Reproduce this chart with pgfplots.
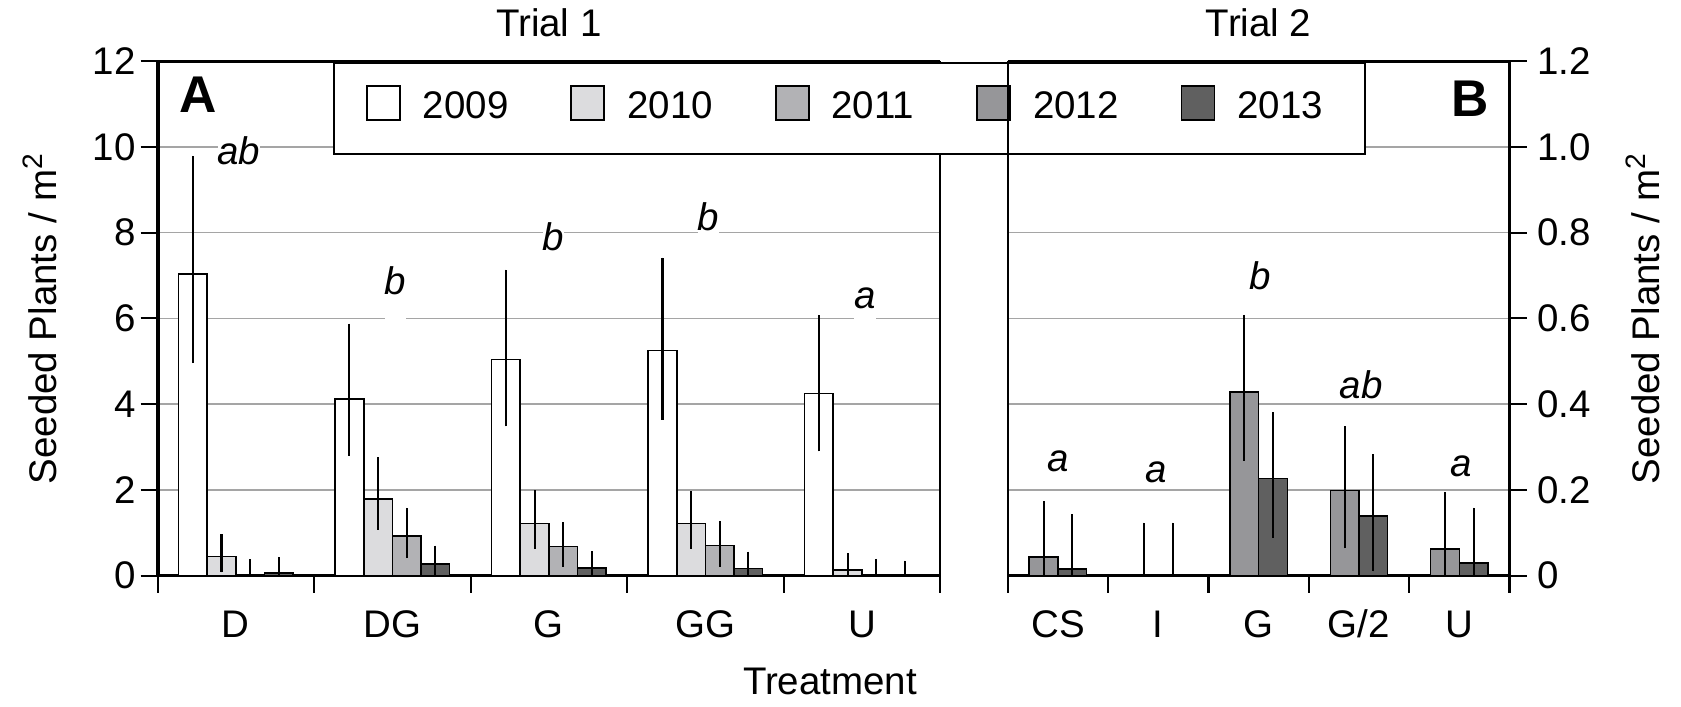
\documentclass[11pt,border=0pt]{standalone}
\usepackage{fontspec}
\setmainfont{Liberation Sans}
\usepackage{pgfplots}
\pgfplotsset{compat=1.18}

\definecolor{cB}{RGB}{220,220,222}
\definecolor{cC}{RGB}{178,178,181}
\definecolor{cD}{RGB}{150,150,153}
\definecolor{cE}{RGB}{96,96,96}
\definecolor{gridgray}{RGB}{165,165,165}

\tikzset{sig/.style={font=\itshape, anchor=base, inner sep=0pt}}

\pgfplotsset{
  panel/.style={
    scale only axis, height=5.146cm,
    ymin=0, xmin=-0.5, xmax=4.5,
    major tick length=0.17cm, minor tick length=0.17cm,
    tick style={black, line width=0.6pt},
    major x tick style={draw=none},
    xtick={0,...,4},
    minor xtick={-0.5,0.5,1.5,2.5,3.5,4.5},
    ymajorgrids, grid style={gridgray, line width=0.45pt},
    xticklabel style={anchor=base, yshift=-0.45cm},
    title style={at={(axis description cs:0.5,1)}, anchor=base, yshift=0.04cm},
  },
  eb/.style={error bars/.cd, y dir=both, y explicit, error mark=none,
    error bar style={line width=0.6pt, black}},
  swatch/.style={legend image code/.code={
    \draw[##1, line width=0.5pt] (0cm,-0.12cm) rectangle (0.33cm,0.22cm);}},
}

\begin{document}
\begin{tikzpicture}
\path[use as bounding box] (-1.576,-1.303) rectangle (15.234,5.757);

% Trial 1 (2009, 2010, 2011, 2013), bars placed at category +- offset
\begin{axis}[panel,
  width=7.826cm, ymax=12,
  axis x line=bottom, axis y line=left,
  tick align=outside,
  x axis line style={-, line width=0.85pt},
  y axis line style={-, line width=1.1pt},
  ytick={0,2,4,6,8,10,12}, yticklabels={0,2,4,6,8,10,12},
  yticklabel style={xshift=0.085cm},
  xticklabels={D,DG,G,GG,U},
  bar width=0.183,
  title={Trial 1},
  ylabel={Seeded Plants / m\textsuperscript{2}},
  ylabel style={at={(axis description cs:-0.1298,0.5)}, anchor=base},
  xlabel={Treatment},
  xlabel style={at={(axis description cs:0.8592,0)}, anchor=base, yshift=-1.19cm},
  extra description/.code={
    \draw[line width=0.85pt] (axis description cs:0,1) -- (axis description cs:1,1);
    \draw[line width=0.45pt] (axis description cs:1,0) -- (axis description cs:1,1);
    \node[font=\fontsize{14.7}{17}\selectfont\bfseries, anchor=north west, inner sep=0pt]
      at ([xshift=0.21cm,yshift=-0.15cm]axis description cs:0,1) {A};
  },
]
\addplot[ybar, fill=white, draw=black, line width=0.45pt, eb]
  coordinates {(-0.2745,7.03) += (0,2.76) -= (0,2.07)
               (0.7255,4.12) += (0,1.76) -= (0,1.33)
               (1.7255,5.04) += (0,2.10) -= (0,1.56)
               (2.7255,5.25) += (0,2.17) -= (0,1.61)
               (3.7255,4.25) += (0,1.83) -= (0,1.35)};
\addplot[ybar, fill=cB, draw=black, line width=0.45pt, eb]
  coordinates {(-0.0915,0.45) += (0,0.52) -= (0,0.37)
               (0.9085,1.79) += (0,0.97) -= (0,0.72)
               (1.9085,1.22) += (0,0.78) -= (0,0.60)
               (2.9085,1.22) += (0,0.75) -= (0,0.60)
               (3.9085,0.13) += (0,0.39) -= (0,0.13)};
\addplot[ybar, fill=cC, draw=black, line width=0.45pt, eb]
  coordinates {(0.0915,0.01) += (0,0.37) -= (0,0.01)
               (1.0915,0.92) += (0,0.66) -= (0,0.51)
               (2.0915,0.68) += (0,0.57) -= (0,0.47)
               (3.0915,0.70) += (0,0.58) -= (0,0.49)
               (4.0915,0.02) += (0,0.37) -= (0,0.02)};
\addplot[ybar, fill=cE, draw=black, line width=0.45pt, eb]
  coordinates {(0.2745,0.06) += (0,0.38) -= (0,0.06)
               (1.2745,0.27) += (0,0.43) -= (0,0.27)
               (2.2745,0.175) += (0,0.40) -= (0,0.175)
               (3.2745,0.17) += (0,0.39) -= (0,0.17)
               (4.2745,0.0) += (0,0.35) -= (0,0.0)};
\node[sig, fill=white, text depth=0.65em] at (axis cs:0.02,9.58) {ab};
\node[sig, fill=white, text depth=0.65em] at (axis cs:1.02,6.56) {b};
\node[sig, fill=white, text depth=0.65em] at (axis cs:2.03,7.58) {b};
\node[sig, fill=white, text depth=0.65em] at (axis cs:3.02,8.04) {b};
\node[sig, fill=white, text depth=0.65em] at (axis cs:4.02,6.22) {a};
\end{axis}

% Trial 2 (2012, 2013)
\begin{axis}[panel,
  at={(8.502cm,0)}, anchor=south west,
  width=5.017cm, ymax=1.2,
  axis x line=bottom, axis y line=right,
  tick align=outside,
  x axis line style={-, line width=0.85pt},
  y axis line style={-, line width=1.1pt},
  ytick={0,0.2,0.4,0.6,0.8,1.0,1.2}, yticklabels={0,0.2,0.4,0.6,0.8,1.0,1.2},
  yticklabel style={xshift=-0.03cm},
  xticklabels={CS,I,G,G/2,U},
  bar width=0.286,
  title={Trial 2},
  ylabel={Seeded Plants / m\textsuperscript{2}},
  ylabel style={at={(axis description cs:1.298,0.5)}, anchor=base},
  legend style={at={(-1.345,0.9983)}, anchor=north west, legend columns=5,
    draw=black, line width=0.6pt, fill=white,
    inner xsep=0.32cm, inner ysep=0.19cm,
    nodes={inner sep=0.1cm},
    /tikz/every odd column/.append style={column sep=0.12cm},
    /tikz/every even column/.append style={column sep=0.52cm}},
  extra description/.code={
    \draw[line width=0.85pt] (axis description cs:0,1) -- (axis description cs:1,1);
    \draw[line width=0.45pt] (axis description cs:0,0) -- (axis description cs:0,1);
    \node[font=\fontsize{14.7}{17}\selectfont\bfseries, anchor=north east, inner sep=0pt]
      at ([xshift=-0.205cm,yshift=-0.19cm]axis description cs:1,1) {B};
  },
]
\addlegendimage{swatch, fill=white, draw=black}
\addlegendimage{swatch, fill=cB, draw=black}
\addlegendimage{swatch, fill=cC, draw=black}
\addlegendimage{swatch, fill=cD, draw=black}
\addlegendimage{swatch, fill=cE, draw=black}
\addplot[ybar, fill=cD, draw=black, line width=0.45pt, forget plot, eb]
  coordinates {(-0.143,0.043) += (0,0.131) -= (0,0.043)
               (0.857,0) += (0,0.124) -= (0,0)
               (1.857,0.429) += (0,0.179) -= (0,0.161)
               (2.857,0.199) += (0,0.150) -= (0,0.135)
               (3.857,0.0625) += (0,0.133) -= (0,0.0625)};
\addplot[ybar, fill=cE, draw=black, line width=0.45pt, forget plot, eb]
  coordinates {(0.143,0.015) += (0,0.128) -= (0,0.015)
               (1.143,0) += (0,0.124) -= (0,0)
               (2.143,0.227) += (0,0.154) -= (0,0.138)
               (3.143,0.139) += (0,0.144) -= (0,0.129)
               (4.143,0.029) += (0,0.130) -= (0,0.029)};
\node[sig] at (axis cs:0.0,0.243) {a};
\node[sig] at (axis cs:0.98,0.217) {a};
\node[sig] at (axis cs:2.02,0.667) {b};
\node[sig] at (axis cs:3.02,0.414) {ab};
\node[sig] at (axis cs:4.02,0.231) {a};
\legend{2009,2010,2011,2012,2013}
\end{axis}
\end{tikzpicture}
\end{document}
